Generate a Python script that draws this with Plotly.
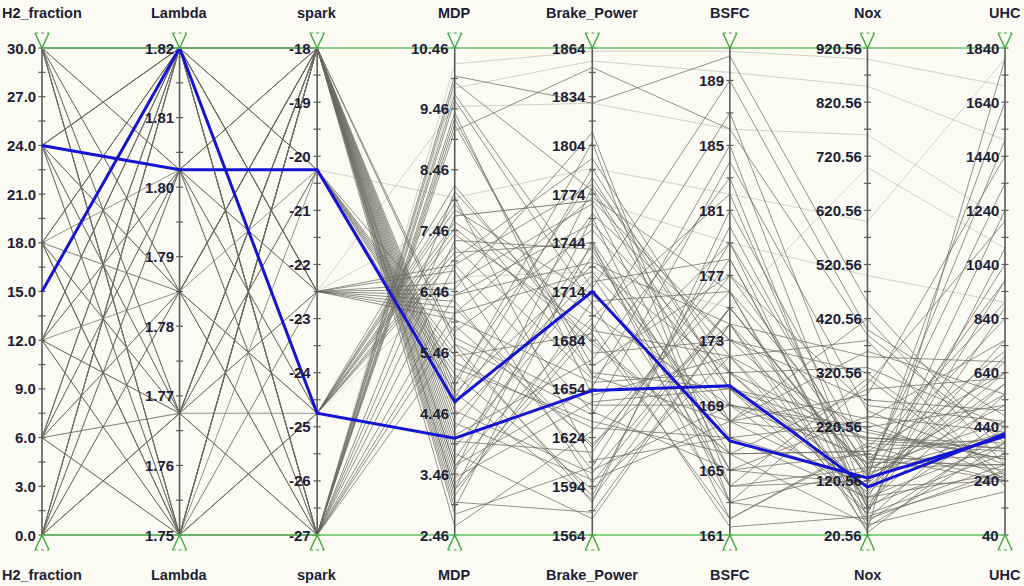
import plotly.graph_objects as go

# axes of the parallel-coordinates view
dimensions = ["H2_fraction", "Lambda", "spark", "MDP", "Brake_Power", "BSFC", "Nox", "UHC"]
axis_ranges = [(0, 30), (1.75, 1.82), (-27, -18), (2.46, 10.46),
               (1564, 1864), (161, 191), (20.56, 920.56), (40, 1840)]

# tick labels per axis
h2_ticks = [0.0, 3.0, 6.0, 9.0, 12.0, 15.0, 18.0, 21.0, 24.0, 27.0, 30.0]
lambda_ticks = [1.75, 1.76, 1.77, 1.78, 1.79, 1.80, 1.81, 1.82]
spark_ticks = [-27, -26, -25, -24, -23, -22, -21, -20, -19, -18]
mdp_ticks = [2.46, 3.46, 4.46, 5.46, 6.46, 7.46, 8.46, 9.46, 10.46]
bp_ticks = [1564, 1594, 1624, 1654, 1684, 1714, 1744, 1774, 1804, 1834, 1864]
bsfc_ticks = [161, 165, 169, 173, 177, 181, 185, 189]
nox_ticks = [20.56, 120.56, 220.56, 320.56, 420.56, 520.56, 620.56, 720.56, 820.56, 920.56]
uhc_ticks = [40, 240, 440, 640, 840, 1040, 1240, 1440, 1640, 1840]
tick_formats = ["{:.1f}", "{:.2f}", "{:.0f}", "{:.2f}", "{:.0f}", "{:.0f}", "{:.2f}", "{:.0f}"]

# one entry per design point
h2_fraction = [30, 30, 30, 30, 30, 30, 30, 30, 24, 24, 24, 24, 24, 24, 18, 18, 18, 18, 18, 12,
               12, 12, 12, 12, 6, 6, 6, 6, 6, 0, 0, 0, 0, 0, 0, 0, 0, 0, 30, 30,
               30, 30, 24, 24, 24, 18, 18, 18, 12, 12, 12, 6, 6, 6, 0, 0, 0, 30, 30, 24,
               18, 12, 6, 0, 24, 18, 12, 6, 0, 30,
               24, 0, 30, 12, 6, 18,
               24, 15]
lambda_ratio = [1.82, 1.75, 1.8025, 1.7675, 1.785, 1.82, 1.75, 1.7675, 1.82, 1.75, 1.785, 1.7675, 1.8025, 1.82, 1.82, 1.75, 1.785, 1.7675, 1.8025, 1.82,
                1.75, 1.785, 1.7675, 1.8025, 1.82, 1.75, 1.7675, 1.785, 1.8025, 1.82, 1.75, 1.785, 1.8025, 1.7675, 1.82, 1.75, 1.82, 1.7675, 1.82, 1.75,
                1.8025, 1.82, 1.82, 1.75, 1.7675, 1.82, 1.75, 1.82, 1.82, 1.75, 1.82, 1.82, 1.75, 1.82, 1.82, 1.75, 1.8025, 1.785, 1.82, 1.785,
                1.7675, 1.7675, 1.785, 1.785, 1.82, 1.75, 1.8025, 1.8025, 1.7675, 1.75,
                1.785, 1.75, 1.8025, 1.82, 1.7675, 1.785,
                1.8025, 1.82]
spark_timing = [-18, -27, -22.5, -18, -27, -24.75, -20.25, -27, -18, -18, -24.75, -22.5, -27, -20.25, -18, -24.75, -18, -20.25, -22.5, -27,
                -18, -20.25, -24.75, -18, -22.5, -27, -18, -24.75, -20.25, -18, -18, -27, -24.75, -20.25, -22.5, -24.75, -27, -18, -18, -18,
                -18, -27, -18, -27, -18, -27, -18, -20.25, -18, -27, -24.75, -18, -18, -27, -20.25, -27, -18, -18, -22.5, -18,
                -27, -18, -18, -18, -22.5, -22.5, -27, -24.75, -22.5, -24.75,
                -27, -22.5, -20.25, -22.5, -27, -24.75,
                -20.25, -24.75]
mdp = [3.2, 6.9, 6.1, 4.3, 9.6, 7.2, 5.0, 5.9, 2.9, 5.6, 7.6, 6.5, 9.2, 4.8, 3.6, 8.0, 4.6, 5.4, 6.8, 9.9,
       3.9, 5.2, 7.0, 4.1, 6.3, 7.3, 3.0, 7.4, 5.8, 2.6, 4.9, 9.4, 7.8, 5.5, 6.6, 8.2, 10.0, 3.4, 3.7, 4.5,
       3.3, 6.4, 4.0, 8.1, 3.5, 5.6, 4.4, 5.1, 3.1, 9.3, 7.1, 3.8, 4.7, 9.7, 5.3, 7.7, 2.8, 4.2, 6.0, 3.6,
       6.1, 4.8, 3.2, 5.7, 6.9, 6.2, 9.1, 7.5, 6.4, 7.9,
       10.2, 9.5, 8.0, 7.7, 9.8, 6.7,
       4.65, 4.05]
brake_power = [1690, 1640, 1772, 1598, 1706, 1660, 1784, 1620, 1745, 1584, 1700, 1812, 1668, 1730, 1655, 1610, 1762, 1688, 1596, 1776,
               1720, 1634, 1796, 1672, 1604, 1740, 1578, 1690, 1752, 1628, 1806, 1650, 1712, 1588, 1768, 1676, 1830, 1646, 1736, 1602,
               1694, 1756, 1615, 1682, 1778, 1638, 1724, 1592, 1708, 1662, 1744, 1574, 1790, 1716, 1630, 1770, 1606, 1742, 1658, 1698,
               1726, 1586, 1760, 1644, 1780, 1618, 1852, 1684, 1732, 1664,
               1862, 1830, 1790, 1770, 1856, 1726,
               1714, 1653]
bsfc = [172, 165, 176, 168, 163, 179, 170, 174, 166, 181, 169, 164, 177, 171, 185, 167, 173, 162, 175, 168,
        178, 166, 171, 183, 169, 164, 174, 187, 170, 176, 163, 172, 168, 180, 165, 173, 190.5, 170, 167, 175,
        161.5, 171, 178, 166, 169, 184, 164, 172, 176, 168, 162, 174, 170, 189, 167, 173, 179, 165, 171, 182,
        168, 175, 163, 169, 172, 177, 186, 166, 174, 170,
        190.8, 186, 182, 179, 189.5, 175,
        166.8, 170.2]
nox = [60, 240, 180, 110, 300, 140, 200, 350, 40, 160, 210, 120, 260, 90, 80, 230, 150, 190, 130, 420,
       70, 175, 110, 50, 220, 310, 30, 160, 100, 25, 140, 380, 200, 120, 170, 270, 450, 60, 90, 130,
       55, 330, 75, 290, 85, 250, 145, 95, 45, 360, 185, 65, 155, 400, 125, 320, 35, 115, 195, 70,
       280, 135, 50, 165, 215, 150, 390, 175, 145, 235,
       900, 760, 600, 500, 850, 700,
       126, 109]
uhc = [300, 420, 900, 240, 1200, 560, 380, 680, 200, 720, 320, 1040, 460, 270, 600, 250, 840, 350, 1500, 300,
       980, 400, 640, 280, 520, 240, 1800, 330, 760, 440, 1340, 220, 360, 600, 280, 500, 340, 1100, 380, 520,
       260, 440, 340, 620, 1240, 300, 460, 700, 420, 560, 240, 880, 300, 480, 1640, 260, 380, 680, 360, 460,
       1440, 420, 560, 240, 320, 980, 380, 640, 300, 760,
       1700, 1200, 1800, 900, 1500, 1100,
       405, 415]

faint_rows = [70, 71, 72, 73, 74, 75]
highlight_rows = [76, 77]

columns = [h2_fraction, lambda_ratio, spark_timing, mdp, brake_power, bsfc, nox, uhc]
n_dims = len(dimensions)
n_rows = len(h2_fraction)


def norm(v, k):
    lo, hi = axis_ranges[k]
    return (v - lo) / (hi - lo)


def polyline(rows):
    xs, ys = [], []
    for r in rows:
        for k in range(n_dims):
            xs.append(k)
            ys.append(norm(columns[k][r], k))
        xs.append(None)
        ys.append(None)
    return xs, ys


bg = "#FBFBF3"
green = "#66C466"
text_col = "#1E1E38"

fig = go.Figure()

base_rows = [r for r in range(n_rows) if r not in faint_rows and r not in highlight_rows]

fx, fy = polyline(faint_rows)
fig.add_trace(go.Scatter(x=fx, y=fy, mode="lines",
                         line=dict(color="rgba(160,160,150,0.45)", width=1), hoverinfo="skip"))
gx, gy = polyline(base_rows)
fig.add_trace(go.Scatter(x=gx, y=gy, mode="lines",
                         line=dict(color="rgba(105,105,95,0.72)", width=1), hoverinfo="skip"))

# axis lines and tick marks
tick_lists = [h2_ticks, lambda_ticks, spark_ticks, mdp_ticks, bp_ticks, bsfc_ticks, nox_ticks, uhc_ticks]
ax_x, ax_y = [], []
tk_x, tk_y = [], []
half = 3.5 / 137.6
for k in range(n_dims):
    ax_x += [k, k, None]
    ax_y += [0, 1, None]
    ticks = tick_lists[k]
    marks = list(ticks) + [(a + b) / 2 for a, b in zip(ticks[:-1], ticks[1:])]
    lo, hi = axis_ranges[k]
    if ticks[-1] < hi:
        marks.append(ticks[-1] + (ticks[-1] - ticks[-2]) / 2)
    for m in marks:
        yy = norm(m, k)
        tk_x += [k - half, k + half, None]
        tk_y += [yy, yy, None]
fig.add_trace(go.Scatter(x=ax_x, y=ax_y, mode="lines",
                         line=dict(color="#5A5A5A", width=1.6), hoverinfo="skip"))
fig.add_trace(go.Scatter(x=tk_x, y=tk_y, mode="lines",
                         line=dict(color="#5A5A5A", width=1.2), hoverinfo="skip"))

# highlighted designs
for r in highlight_rows:
    hx, hy = polyline([r])
    fig.add_trace(go.Scatter(x=hx, y=hy, mode="lines",
                             line=dict(color="#1414D2", width=3), hoverinfo="skip"))

# tick labels
for k in range(n_dims):
    for t in tick_lists[k]:
        fig.add_annotation(x=k - 0.028, y=norm(t, k), xref="x", yref="y",
                           text="<b>" + tick_formats[k].format(t) + "</b>", showarrow=False,
                           xanchor="right", yanchor="middle",
                           font=dict(family="Liberation Sans", size=15, color=text_col))

# axis titles top and bottom
for k, name in enumerate(dimensions):
    for yy in (1.072, -0.082):
        fig.add_annotation(x=k, y=yy, xref="x", yref="y", text="<b>" + name + "</b>", showarrow=False,
                           xanchor="center", yanchor="middle",
                           font=dict(family="Liberation Sans", size=14.5, color=text_col))

# range bars and handles
shapes = [
    dict(type="line", xref="x", yref="y", x0=0, x1=n_dims - 1, y0=1, y1=1,
         line=dict(color=green, width=1.6)),
    dict(type="line", xref="x", yref="y", x0=0, x1=n_dims - 1, y0=0, y1=0,
         line=dict(color=green, width=1.6)),
]
a = 7 / 137.6
h = 15 / 487
for k in range(n_dims):
    shapes.append(dict(type="path", xref="x", yref="y",
                       path=f"M {k - a},{1 + h} L {k},1 L {k + a},{1 + h}",
                       line=dict(color="#3EAA3E", width=1.4)))
    shapes.append(dict(type="line", xref="x", yref="y", x0=k - a, x1=k + a, y0=1 + h, y1=1 + h,
                       line=dict(color="#3EAA3E", width=1.2, dash="dot")))
    shapes.append(dict(type="path", xref="x", yref="y",
                       path=f"M {k - a},{-h} L {k},0 L {k + a},{-h}",
                       line=dict(color="#3EAA3E", width=1.4)))
    shapes.append(dict(type="line", xref="x", yref="y", x0=k - a, x1=k + a, y0=-h, y1=-h,
                       line=dict(color="#3EAA3E", width=1.2, dash="dot")))

fig.update_layout(
    width=1024, height=586,
    margin=dict(l=0, r=0, t=0, b=0),
    showlegend=False,
    plot_bgcolor=bg, paper_bgcolor=bg,
    shapes=shapes,
    xaxis=dict(visible=False, range=[-0.3053, 7.138], fixedrange=True),
    yaxis=dict(visible=False, range=[-0.1047, 1.0986], fixedrange=True),
)

fig.write_html("out.html", config={"displayModeBar": False},
               post_script="document.body.style.margin='0';document.body.style.overflow='hidden';")
